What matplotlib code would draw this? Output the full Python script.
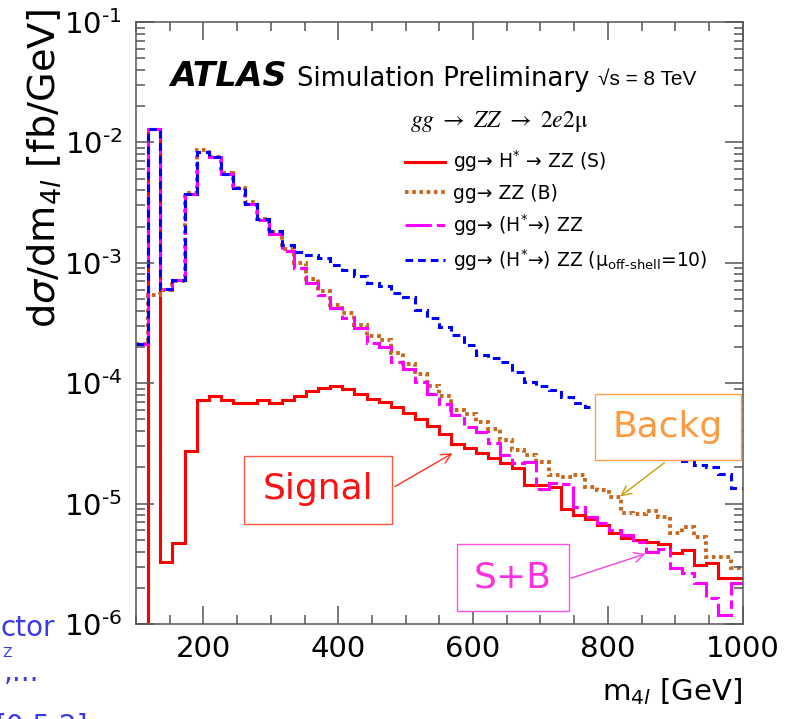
import numpy as np
import matplotlib.pyplot as plt
from matplotlib.lines import Line2D
from matplotlib.ticker import MultipleLocator, LogLocator, NullFormatter, FuncFormatter

plt.rcParams['font.family'] = ['DejaVu Sans']
plt.rcParams['mathtext.fontset'] = 'dejavusans'
plt.rcParams['lines.scale_dashes'] = False

# --- datos: 50 bins de 18 GeV entre 100 y 1000 GeV ---
bin_edges = np.linspace(100, 1000, 51)

signal = [1e-6, 1.28e-2, 3.3e-6, 4.7e-6, 2.75e-5, 7.2e-5, 7.9e-5, 7.2e-5, 6.9e-5, 6.9e-5,
          7.2e-5, 6.9e-5, 7.25e-5, 7.9e-5, 8.6e-5, 9.2e-5, 9.4e-5, 8.9e-5, 8.1e-5, 7.4e-5,
          6.95e-5, 6.3e-5, 5.7e-5, 5.0e-5, 4.4e-5, 3.8e-5, 3.15e-5, 2.88e-5, 2.62e-5, 2.38e-5,
          2.16e-5, 1.96e-5, 1.43e-5, 1.43e-5, 1.38e-5, 9.1e-6, 8.0e-6, 7.5e-6, 6.6e-6, 5.66e-6,
          5.14e-6, 4.99e-6, 4.83e-6, 4.62e-6, 3.86e-6, 4.12e-6, 3.09e-6, 3.23e-6, 2.4e-6, 2.4e-6]

background = [2.1e-4, 5.4e-4, 6.0e-4, 7.0e-4, 3.8e-3, 8.6e-3, 7.6e-3, 5.6e-3, 4.2e-3, 3.2e-3,
              2.3e-3, 1.8e-3, 1.3e-3, 9.9e-4, 7.3e-4, 5.8e-4, 4.5e-4, 3.8e-4, 3.05e-4, 2.45e-4,
              2.28e-4, 1.77e-4, 1.45e-4, 1.2e-4, 9.5e-5, 7.8e-5, 6.0e-5, 5.6e-5, 4.8e-5, 4.2e-5,
              3.37e-5, 2.79e-5, 2.53e-5, 2.23e-5, 1.73e-5, 1.67e-5, 1.73e-5, 1.38e-5, 1.3e-5, 1.14e-5,
              8.3e-6, 8.2e-6, 8.6e-6, 7.8e-6, 5.7e-6, 6.4e-6, 5.3e-6, 3.6e-6, 3.6e-6, 2.9e-6]

total = [2.1e-4, 1.28e-2, 6.1e-4, 7.2e-4, 3.75e-3, 8.4e-3, 7.5e-3, 5.5e-3, 4.15e-3, 3.1e-3,
         2.25e-3, 1.75e-3, 1.25e-3, 9.0e-4, 6.8e-4, 5.4e-4, 4.2e-4, 3.45e-4, 2.86e-4, 2.14e-4,
         2.0e-4, 1.51e-4, 1.3e-4, 1.02e-4, 8.1e-5, 6.7e-5, 5.45e-5, 4.35e-5, 3.96e-5, 3.16e-5,
         2.53e-5, 2.16e-5, 2.2e-5, 1.31e-5, 1.47e-5, 1.45e-5, 9.4e-6, 7.8e-6, 6.9e-6, 6.0e-6,
         5.5e-6, 4.8e-6, 4.0e-6, 4.2e-6, 2.9e-6, 2.64e-6, 2.18e-6, 1.65e-6, 1.19e-6, 2.2e-6]

total_mu10 = [2.1e-4, 1.28e-2, 6.1e-4, 7.2e-4, 3.75e-3, 8.4e-3, 7.5e-3, 5.5e-3, 4.15e-3, 3.1e-3,
              2.3e-3, 1.85e-3, 1.4e-3, 1.24e-3, 1.16e-3, 1.09e-3, 9.6e-4, 8.7e-4, 7.7e-4, 6.8e-4,
              6.4e-4, 5.6e-4, 5.2e-4, 4.06e-4, 3.48e-4, 2.95e-4, 2.51e-4, 2.07e-4, 1.71e-4, 1.62e-4,
              1.5e-4, 1.24e-4, 1.03e-4, 9.5e-5, 8.8e-5, 7.7e-5, 6.85e-5, 6.3e-5, 5.8e-5, 5.1e-5,
              4.6e-5, 4.1e-5, 3.55e-5, 3.1e-5, 2.7e-5, 2.25e-5, 2.09e-5, 2.0e-5, 1.75e-5, 1.35e-5]

labels = ["gg→ H$^{*}$ → ZZ (S)",
          "gg→ ZZ (B)",
          "gg→ (H$^{*}$→) ZZ",
          r"gg→ (H$^{*}$→) ZZ (μ$_{\text{off-shell}}$=10)"]

# estilos de cada serie
c_sig, c_bkg, c_tot, c_mu = '#ff0000', '#c8661c', '#ff00ff', '#0000ff'
ls_sig = '-'
ls_bkg = (0, (2.6, 2.6))
ls_tot = (0, (19, 3.6, 6, 3.6))
ls_mu = (0, (5.5, 3.6))

W, H = 785, 719
fig = plt.figure(figsize=(W / 100, H / 100), dpi=100)
ax = fig.add_axes([136 / W, 1 - 624 / H, (742.7 - 136) / W, (624 - 22) / H])

ax.stairs(signal, bin_edges, baseline=None, color=c_sig, lw=2.2, ls=ls_sig)
ax.stairs(background, bin_edges, baseline=None, color=c_bkg, lw=2.8, ls=ls_bkg, capstyle='butt')
ax.stairs(total, bin_edges, baseline=None, color=c_tot, lw=2.2, ls=ls_tot)
ax.stairs(total_mu10, bin_edges, baseline=None, color=c_mu, lw=2.2, ls=ls_mu)

ax.set_yscale('log')
ax.set_xlim(100, 1000)
ax.set_ylim(1e-6, 1e-1)

# --- ejes estilo ROOT ---
ax.xaxis.set_major_locator(MultipleLocator(200))
ax.xaxis.set_minor_locator(MultipleLocator(50))
ax.yaxis.set_major_locator(LogLocator(base=10))
ax.yaxis.set_minor_locator(LogLocator(base=10, subs=np.arange(2, 10)))
ax.yaxis.set_minor_formatter(NullFormatter())
ax.yaxis.set_major_formatter(FuncFormatter(
    lambda v, p: r"10$^{\text{-%d}}$" % round(-np.log10(v))))
ax.tick_params(which='both', direction='in', top=True, right=True, color='#555555',
               labelsize=21)
ax.tick_params(which='major', length=13, width=1.1)
ax.tick_params(which='minor', length=6.5, width=1.1)
ax.tick_params(axis='x', pad=8)
ax.tick_params(axis='y', pad=10)
for s in ax.spines.values():
    s.set_color('#555555')
    s.set_linewidth(1.1)

fig.text(45 / W, 1 - 8 / H, r"d$\sigma$/dm$_{4l}$ [fb/GeV]", rotation=90,
         ha='center', va='top', fontsize=27.5)
fig.text(742 / W, 1 - 700 / H, r"m$_{4l}$ [GeV]", ha='right', va='baseline', fontsize=21)

# --- textos ATLAS ---
fig.text(170 / W, 1 - 86 / H, "ATLAS", fontsize=24, weight='bold', style='italic', va='baseline')
fig.text(297 / W, 1 - 86 / H, "Simulation Preliminary", fontsize=18.6, va='baseline')
fig.text(598 / W, 1 - 85 / H, "√s = 8 TeV", fontsize=15, va='baseline',
         family=['Liberation Sans', 'DejaVu Sans'])
fig.text(410 / W, 1 - 127 / H, r"$gg\ \rightarrow\ ZZ\ \rightarrow\ 2e2\mathrm{\mu}$",
         fontsize=17, va='baseline', math_fontfamily='stix')

handles = [Line2D([], [], color=c_sig, lw=2.2, ls=ls_sig),
           Line2D([], [], color=c_bkg, lw=2.8, ls=ls_bkg, dash_capstyle='butt'),
           Line2D([], [], color=c_tot, lw=2.2, ls=ls_tot),
           Line2D([], [], color=c_mu, lw=2.2, ls=ls_mu)]
ax.legend(handles, labels, loc='upper left', frameon=False, fontsize=13.5,
          bbox_to_anchor=((405 - 136) / 606.7, (624 - 149) / 602),
          borderpad=0, borderaxespad=0, handlelength=2.15, handletextpad=0.43,
          labelspacing=0.5)

# --- cajas de anotación ---
def box_label(text, cx, cy, w, h, tcolor, ecolor):
    ax.text((cx - 136) / 606.7, (624 - cy) / 602, text, transform=ax.transAxes,
            ha='center', va='center', fontsize=26, color=tcolor, zorder=6)
    ax.add_patch(plt.Rectangle(((cx - w / 2 - 136) / 606.7, (624 - cy - h / 2) / 602),
                               w / 606.7, h / 602, transform=ax.transAxes,
                               facecolor='white', edgecolor=ecolor, lw=1.0, zorder=5))

box_label("Signal", 318, 489.5, 148, 68, '#ff1010', '#ff5a40')
box_label("Backg", 668, 427.5, 146, 66, '#ff9a40', '#ffa050')
box_label("S+B", 512.5, 577.7, 112, 67, '#ff30e0', '#ff50e8')

def px(xp, yp):
    return ((xp - 136) / 606.7, (624 - yp) / 602)

arrow = '->,head_length=0.7,head_width=0.35'
ax.annotate('', xy=(573, 2.69e-5), xytext=px(392.5, 488), textcoords='axes fraction',
            arrowprops=dict(arrowstyle=arrow, color='#ff3020', lw=1.0), zorder=7)
ax.annotate('', xy=(815, 1.11e-5), xytext=px(666.7, 461), textcoords='axes fraction',
            arrowprops=dict(arrowstyle=arrow, color='#c8a010', lw=1.0), zorder=7)
ax.annotate('', xy=(859.5, 3.89e-6), xytext=px(568.5, 579), textcoords='axes fraction',
            arrowprops=dict(arrowstyle=arrow, color='#ff40e0', lw=1.0), zorder=7)

# --- restos de texto de la diapositiva ---
fig.text(0, 1 - 636 / H, "ctor", ha='left', va='baseline', fontsize=20, color='#3a3ae6')
fig.text(2 / W, 1 - 657 / H, "Z", ha='left', va='baseline', fontsize=10, color='#3a3ae6')
fig.text(4 / W, 1 - 681 / H, ",...", ha='left', va='baseline', fontsize=20, color='#3a3ae6')
fig.text(-4 / W, 1 - 735 / H, "[0.5,2]", ha='left', va='baseline', fontsize=20, color='#3a3ae6')

fig.savefig('out.png', dpi=100)
